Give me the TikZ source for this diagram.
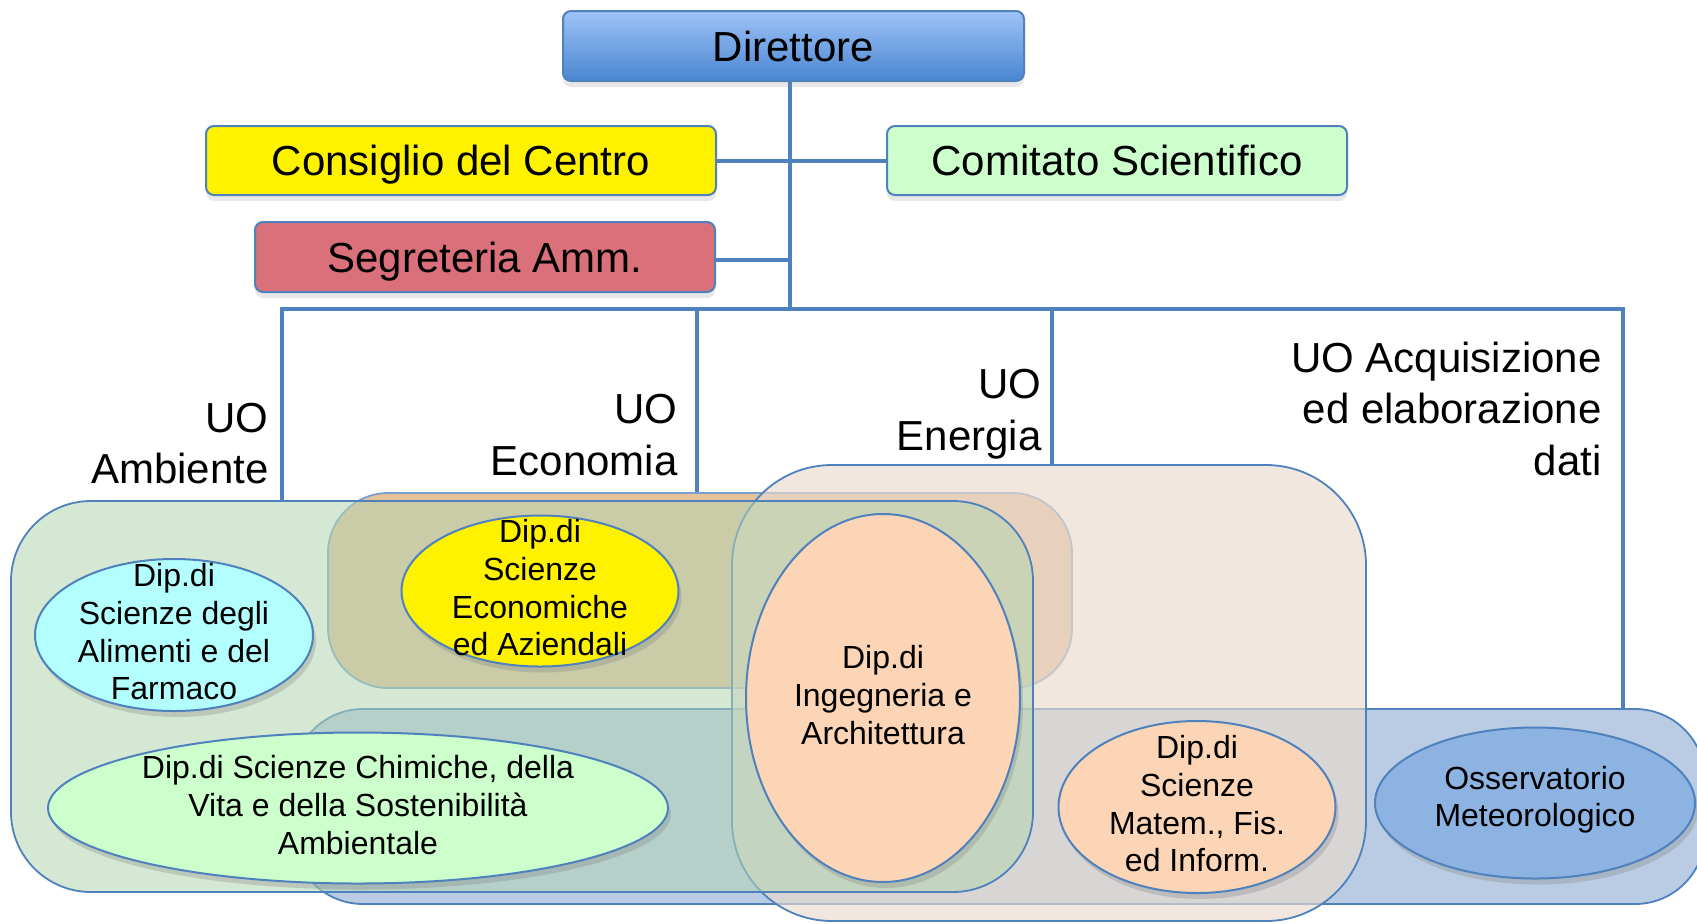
\documentclass[tikz,border=0pt]{standalone}
\usepackage{fontspec}
\setmainfont{Liberation Sans}
\usetikzlibrary{shapes.geometric,shadows,positioning}

\definecolor{lineblue}{RGB}{79,129,189}
\definecolor{dirtop}{RGB}{158,196,248}
\definecolor{dirbot}{RGB}{74,133,209}
\definecolor{segred}{RGB}{217,112,122}
\definecolor{comgreen}{RGB}{204,255,204}
\definecolor{ambfill}{RGB}{179,213,177}
\definecolor{ecofill}{RGB}{228,195,155}
\definecolor{enefill}{RGB}{233,218,206}
\definecolor{acqfill}{RGB}{185,204,228}
\definecolor{alimcyan}{RGB}{179,255,255}
\definecolor{peach}{RGB}{251,213,181}
\definecolor{ossblue}{RGB}{141,179,226}

\begin{document}
\begin{tikzpicture}[x=0.5pt,y=-0.5pt,
    box/.style={draw=lineblue,line width=1pt,rounded corners=4pt,minimum height=35pt,inner sep=0pt,
      text height=15pt,text depth=0pt,
      font=\fontsize{21}{25.75}\selectfont,drop shadow={shadow xshift=0pt,shadow yshift=-3pt,opacity=0.18}},
    unit/.style={draw=lineblue,line width=0.9pt,inner sep=0pt},
    dept/.style={ellipse,draw=lineblue,line width=1pt,inner sep=0pt,
      drop shadow={shadow xshift=1.5pt,shadow yshift=-3pt,opacity=0.3}},
    depttext/.style={align=center,inner sep=0pt,yshift=1.6pt,font=\fontsize{16}{18.9}\selectfont},
    uo/.style={align=right,inner sep=0pt,font=\fontsize{21}{25.75}\selectfont},
    tree/.style={draw=lineblue,line width=2pt}]
    \useasboundingbox (0,0) rectangle (1697,923);

    \node[unit,draw=lineblue!75,fill=ecofill,rounded corners=30pt,minimum width=372pt,minimum height=97.5pt] (eco) at (700,590.5) {};
    \node[unit,fill=acqfill,rounded corners=35pt,minimum width=706pt,minimum height=97.5pt] (acq) at (999,806.5) {};
    \node[unit,fill=enefill,fill opacity=0.65,rounded corners=50pt,minimum width=317pt,minimum height=228pt] (ene) at (1049,693) {};
    \node[unit,fill=ambfill,fill opacity=0.55,rounded corners=40pt,minimum width=511pt,minimum height=195.5pt] (amb) at (522,696.5) {};

    \node[dept,fill=alimcyan,minimum width=139pt,minimum height=76pt] (alim) at (174,635) {};
    \node[depttext] (alimt) at (alim) {Dip.di\\Scienze degli\\Alimenti e del\\Farmaco};
    \node[dept,fill=yellow,minimum width=138.5pt,minimum height=75.5pt] (econ) at (540,591) {};
    \node[depttext] (econt) at (econ) {Dip.di\\Scienze\\Economiche\\ed Aziendali};
    \node[dept,fill=comgreen,minimum width=310pt,minimum height=75.5pt] (chim) at (358,808) {};
    \node[depttext] (chimt) at (chim) {Dip.di Scienze Chimiche, della\\Vita e della Sostenibilità\\Ambientale};
    \node[dept,fill=peach,minimum width=137pt,minimum height=184pt] (ing) at (883,698) {};
    \node[depttext] (ingt) at (ing) {Dip.di\\Ingegneria e\\Architettura};
    \node[dept,fill=peach,minimum width=138.5pt,minimum height=86pt] (mat) at (1197,807) {};
    \node[depttext] (matt) at (mat) {Dip.di\\Scienze\\Matem., Fis.\\ed Inform.};
    \node[dept,fill=ossblue,minimum width=160pt,minimum height=75.5pt] (oss) at (1535,803) {};
    \node[depttext] (osst) at (oss) {Osservatorio\\Meteorologico};

    \node[box,top color=dirtop,bottom color=dirbot,minimum width=230.5pt] (dir) at (793.5,46) {Direttore};
    \node[box,fill=yellow,minimum width=255pt,minimum height=34.5pt] (cons) at (461,160.5) {Consiglio del Centro};
    \node[box,fill=comgreen,minimum width=230pt,minimum height=34.5pt] (com) at (1117,160.5) {Comitato Scientifico};
    \node[box,fill=segred,minimum width=230pt] (seg) at (485,257) {Segreteria Amm.};

    \coordinate (hub) at (790,309);
    \coordinate (ua) at (282,309);
    \coordinate (ue) at (697,309);
    \coordinate (un) at (1052,309);
    \coordinate (uq) at (1623,309);

    \draw[tree] (dir.south -| hub) -- (hub);
    \draw[tree] (cons.east) -- (com.west);
    \draw[tree] ([yshift=-1.5pt]seg.east) -- ([yshift=-1.5pt]seg.east -| hub);
    \draw[tree] (ua |- amb.north) -- (ua) -- (uq) -- (uq |- acq.north);
    \draw[tree] (ue) -- (ue |- eco.north);
    \draw[tree] (un) -- (un |- ene.north);

    \node[uo,anchor=base east] (lamb) at (269,483.5) {UO\\Ambiente};
    \node[uo,anchor=base east] (leco) at (678,475) {UO\\Economia};
    \node[uo,anchor=base east] (lene) at (1042,450) {UO\\Energia};
    \node[uo,anchor=base east] (lacq) at (1602,475) {UO Acquisizione\\ed elaborazione\\dati};
\end{tikzpicture}
\end{document}
